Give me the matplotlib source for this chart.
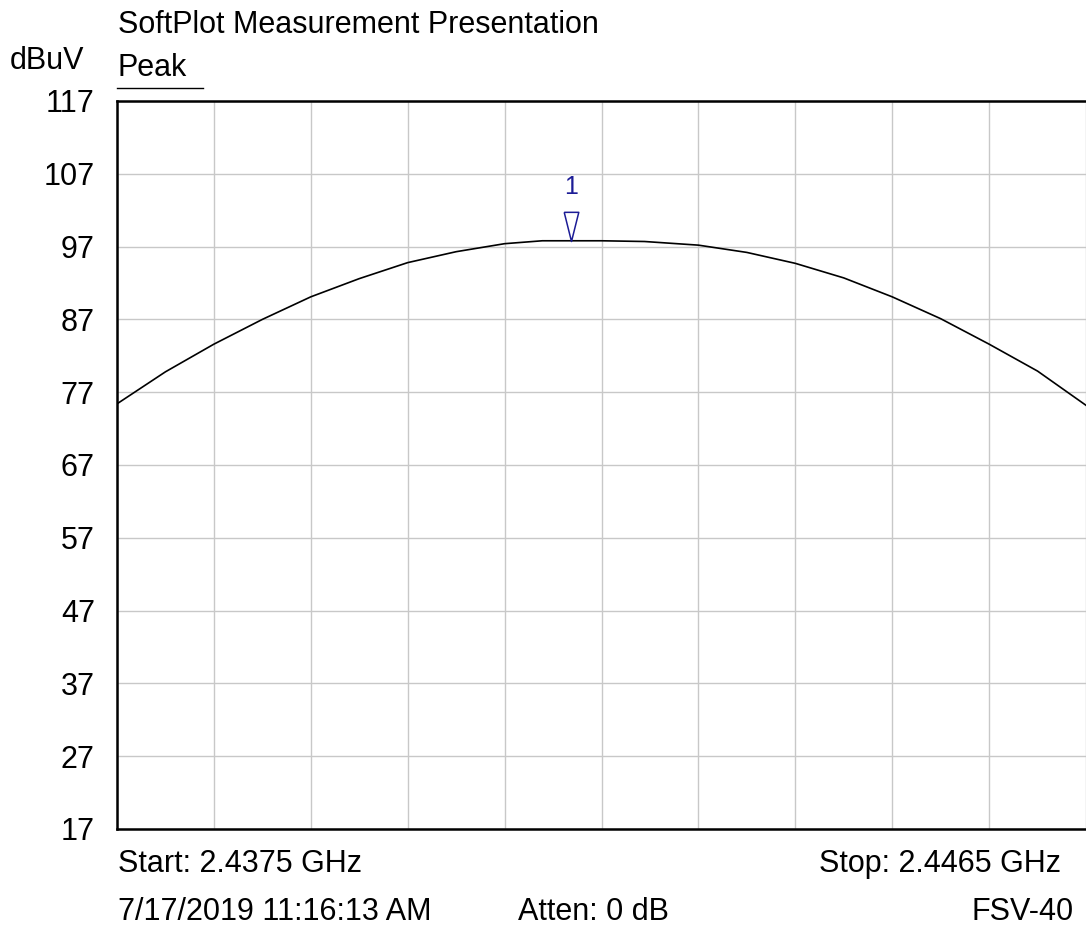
import numpy as np
import matplotlib
matplotlib.use("Agg")
import matplotlib.pyplot as plt

plt.rcParams['font.family'] = ['Liberation Sans', 'DejaVu Sans']

# trace (GHz, dBuV)
freq_ghz = [2.4375, 2.43795, 2.4384, 2.43885, 2.4393, 2.43975, 2.4402, 2.44065,
            2.4411, 2.44145, 2.4420, 2.4424, 2.4429, 2.44335, 2.4438, 2.44425,
            2.4447, 2.44515, 2.4456, 2.44605, 2.4465]
level_dbuv = [75.4, 79.8, 83.6, 87.0, 90.1, 92.6, 94.8, 96.3,
              97.4, 97.8, 97.8, 97.7, 97.2, 96.2, 94.7, 92.7,
              90.1, 87.1, 83.6, 79.9, 75.2]

marker_freq = 2.44172
marker_level = 97.8
marker_label = "1"

y_ticks = [17, 27, 37, 47, 57, 67, 77, 87, 97, 107, 117]
f_start, f_stop = 2.4375, 2.4465

FS = 22

fig = plt.figure(figsize=(10.86, 9.33), dpi=100)
ax = fig.add_axes([117/1086, 1 - 829/933, 1 - 117/1086, (829 - 101)/933])

ax.plot(freq_ghz, level_dbuv, color='black', lw=1.2)

# marker 1 (narrow open triangle, tip on the trace)
tri = [(-0.5, 2.0), (0.5, 2.0), (0.0, 0.0), (-0.5, 2.0)]
ax.plot([marker_freq], [marker_level], marker=tri, markersize=42,
        markerfacecolor='none', markeredgecolor='#1c1c96', markeredgewidth=1.1,
        linestyle='none', clip_on=False)
ax.annotate(marker_label, (marker_freq, marker_level), xytext=(0, 39),
            textcoords='offset points', ha='center', va='center',
            color='#1c1c96', fontsize=18)

ax.set_xlim(f_start, f_stop)
ax.set_ylim(17, 117)
ax.set_xticks(np.linspace(f_start, f_stop, 11))
ax.set_yticks(y_ticks)
ax.set_xticklabels([])
ax.tick_params(axis='both', length=0)
ax.tick_params(axis='y', labelsize=FS, pad=16)
ax.grid(True, color='#c8c8c8', lw=1.0)
ax.set_axisbelow(True)

for s in ['left', 'bottom', 'top']:
    ax.spines[s].set_linewidth(1.8)
    ax.spines[s].set_color('black')
ax.spines['right'].set_visible(False)

fig.text(118/1086, 1 - 25/933, "SoftPlot Measurement Presentation",
         fontsize=FS, ha='left', va='center')
fig.text(10/1086, 1 - 61/933, "dBuV", fontsize=FS, ha='left', va='center')
fig.text(118/1086, 1 - 68/933, "Peak", fontsize=FS, ha='left', va='center')
fig.add_artist(plt.Line2D([117/1086, 203/1086], [1 - 88/933, 1 - 88/933],
                          color='black', lw=1.0))

fig.text(118/1086, 1 - 864/933, "Start: 2.4375 GHz", fontsize=FS,
         ha='left', va='center')
fig.text(1061/1086, 1 - 864/933, "Stop: 2.4465 GHz", fontsize=FS,
         ha='right', va='center')
fig.text(118/1086, 1 - 912/933, "7/17/2019 11:16:13 AM", fontsize=FS,
         ha='left', va='center')
fig.text(518/1086, 1 - 912/933, "Atten: 0 dB", fontsize=FS,
         ha='left', va='center')
fig.text(1074/1086, 1 - 912/933, "FSV-40", fontsize=FS,
         ha='right', va='center')

fig.savefig("out.png", dpi=100)
